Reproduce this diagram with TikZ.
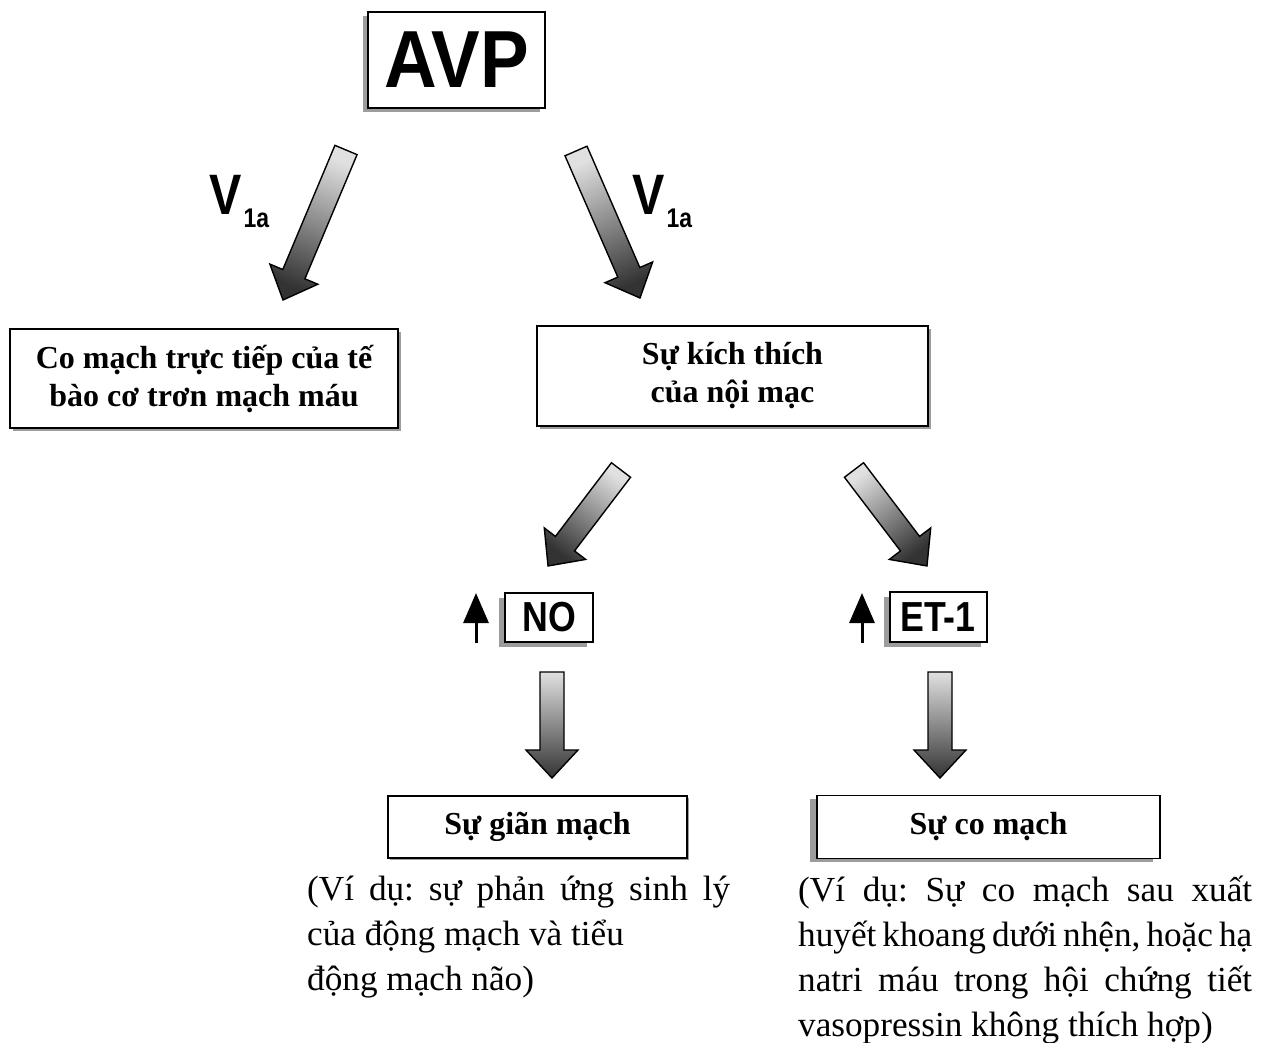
\documentclass[tikz,border=0pt]{standalone}
\usepackage{fontspec}
\setmainfont{Liberation Serif}
\newfontfamily\nsans[FakeStretch=0.85]{Liberation Sans}
\newfontfamily\wsans[FakeStretch=0.9]{Liberation Sans}
\usetikzlibrary{calc,arrows.meta,shadows}

\newcommand\blockarrow[2]{%
  \path let \p1=($(#2)-(#1)$), \n1={atan2(\y1,\x1)}, \n2={veclen(\x1,\y1)} in
    \pgfextra{\xdef\baang{\n1}\xdef\balen{\n2}\pgfmathsetmacro\tmpa{\n1+90}\xdef\bashang{\tmpa}};
  \begin{scope}[shift={(#1)}, rotate=\baang]
    \shade[blkarrow, shading angle=\bashang] (0,-12) -- (\balen-28,-12) -- (\balen-28,-26) -- (\balen,0)
      -- (\balen-28,26) -- (\balen-28,12) -- (0,12) -- cycle;
  \end{scope}}
\newcommand\capsp{\spaceskip=0.25em plus 0.4em minus 0.16em\relax}

\begin{document}
\frenchspacing
\begin{tikzpicture}[x=1pt,y=-1pt,
  box/.style={draw=black, line width=1.6pt, fill=white, inner sep=0pt, align=center,
    font=\fontsize{32}{38}\selectfont\bfseries},
  sbox/.style={draw=black, line width=2pt, fill=white, inner sep=0pt,
    font=\nsans\bfseries\fontsize{42}{42}\selectfont},
  blkarrow/.style={draw=black, line width=1.4pt, left color=black!12, right color=black!80},
  thinup/.style={line width=3pt, -{Triangle[length=30pt,width=25pt]}},
  vlab/.style={anchor=base west, inner sep=0pt, font=\nsans\bfseries\fontsize{57}{57}\selectfont},
  captext/.style={inner sep=0pt, anchor=north west, align=left, font=\fontsize{35.2}{45}\selectfont},
  shd/.style 2 args={drop shadow={shadow xshift=#1pt, shadow yshift=#2pt, opacity=.55, fill=black!70}}
]
\useasboundingbox (0,0) rectangle (1270,1043);
\fill[white] (0,0) rectangle (1270,1043);

% boxes
\node[box, line width=2.7pt, minimum width=177pt, minimum height=96pt, shd={-5}{-4},
  font=\wsans\bfseries\fontsize{81}{81}\selectfont] (avp) at (456.5,60) {AVP};
\node[box, minimum width=388pt, minimum height=99pt, shd={3}{-3}] (lb) at (204,378.5)
  {Co mạch trực tiếp của tế\\bào cơ trơn mạch máu};
\node[box, minimum width=391pt, minimum height=100pt, shd={3}{-3}] (mb) at (732.5,376)
  {Sự kích thích\\của nội mạc};
\node[sbox, minimum width=88pt, minimum height=49pt, shd={-6}{-5}] (no) at (549,617.5) {NO};
\node[sbox, minimum width=97pt, minimum height=50pt, shd={-6}{-5}] (et) at (938,617) {ET-1};
\node[box, minimum width=299pt, minimum height=62pt, shd={2}{-2}] (gm) at (537.5,827) {Sự giãn mạch};
\node[box, minimum width=343pt, minimum height=63pt, shd={-7}{-3}] (cm) at (988.5,827) {Sự co mạch};

% V1a labels
\node[vlab] (vl) at (209,215) {V\kern2pt\raisebox{-13pt}{\fontsize{27}{27}\selectfont 1a}};
\node[vlab] (vr) at (632,215) {V\kern2pt\raisebox{-13pt}{\fontsize{27}{27}\selectfont 1a}};

% block arrows
\coordinate (a1t) at (346,150); \coordinate (a1h) at (283,300);
\coordinate (a2t) at (576,151); \coordinate (a2h) at (640,298);
\coordinate (a3t) at (621,470); \coordinate (a3h) at (548,566);
\coordinate (a4t) at (854,470); \coordinate (a4h) at (927,566);
\coordinate (a5t) at (552,672); \coordinate (a5h) at (552,778);
\coordinate (a6t) at (940,672); \coordinate (a6h) at (940,778);
\blockarrow{a1t}{a1h}
\blockarrow{a2t}{a2h}
\blockarrow{a3t}{a3h}
\blockarrow{a4t}{a4h}
\blockarrow{a5t}{a5h}
\blockarrow{a6t}{a6h}

% thin up arrows
\coordinate (u1b) at (476,643); \coordinate (u1t) at (476,593);
\coordinate (u2b) at (862,643); \coordinate (u2t) at (862,593);
\draw[thinup] (u1b) -- (u1t);
\draw[thinup] (u2b) -- (u2t);

% captions
\node[captext] (capl) at (307,876) {\capsp\hbox to 423pt{(Ví dụ: sự phản ứng sinh lý}\\của động mạch và tiểu\\động mạch não)};
\node[captext] (capr) at (798,876) {\capsp\hbox to 454pt{(Ví dụ: Sự co mạch sau xuất}\\\hbox to 454pt{huyết khoang dưới nhện, hoặc hạ}\\\hbox to 454pt{natri máu trong hội chứng tiết}\\vasopressin không thích hợp)};
\end{tikzpicture}
\end{document}
